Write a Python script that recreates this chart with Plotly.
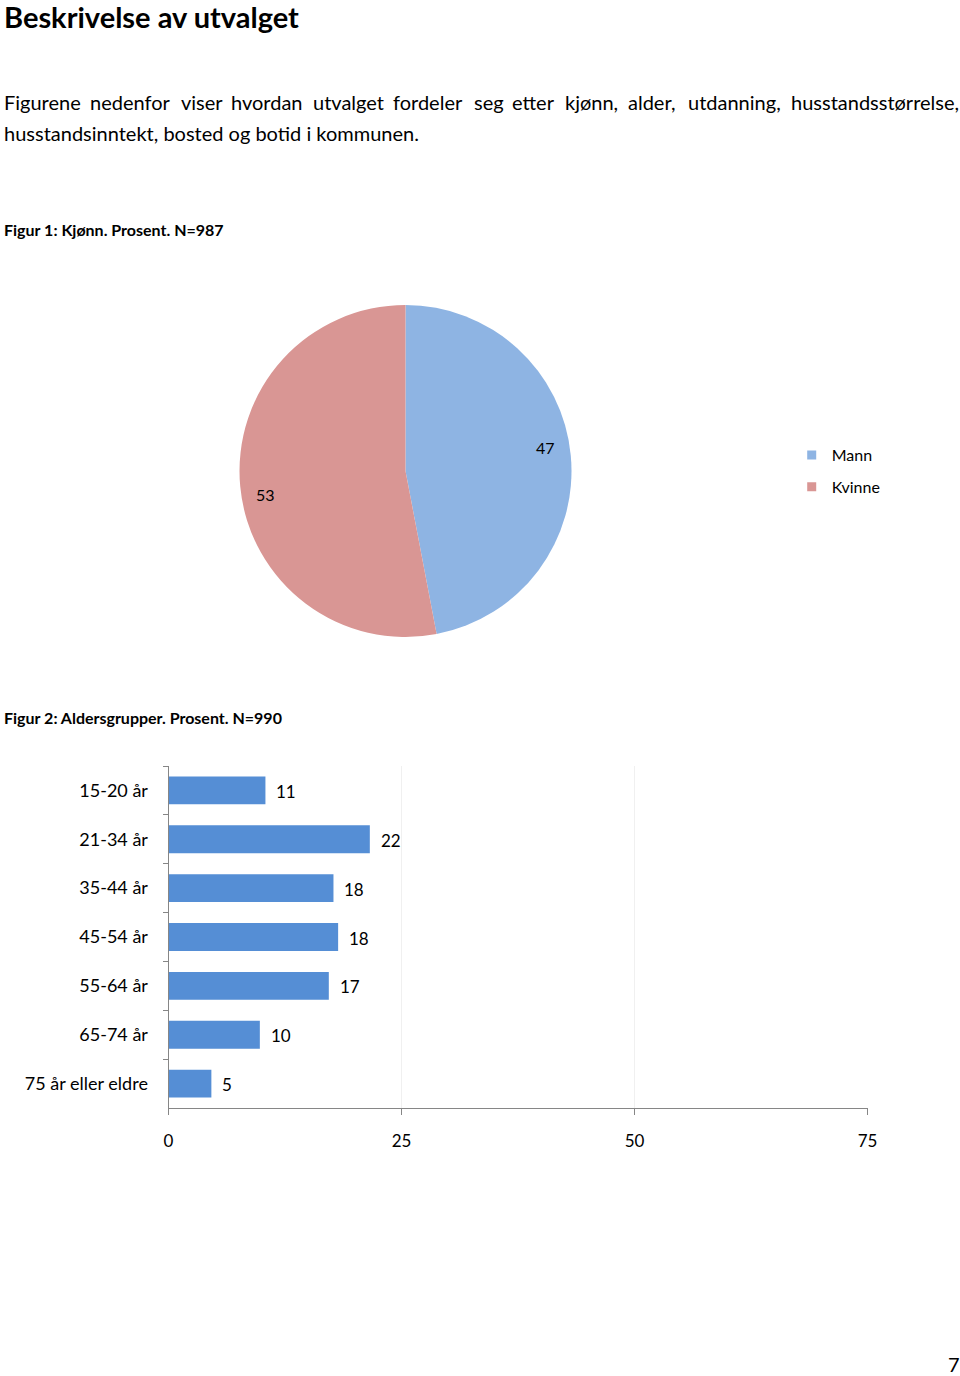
import plotly.graph_objects as go
import math

H = 1376
W = 975          # figure width
X_SCALE = 0.9846  # observed horizontal mapping of the renderer (figure px -> picture px)
X_OFF = 4.5
FONT = "Lato"

# ---- data ----
gender_labels = ["Mann", "Kvinne"]
gender_values = [47, 53]
gender_colors = ["#8EB4E3", "#D99694"]

age_groups = ["15-20 år", "21-34 år", "35-44 år", "45-54 år", "55-64 år", "65-74 år", "75 år eller eldre"]
age_values = [10.4, 21.6, 17.7, 18.2, 17.2, 9.8, 4.6]
age_labels = ["11", "22", "18", "18", "17", "10", "5"]
x_ticks = [0, 25, 50, 75]

title_text = "Beskrivelse av utvalget"
para_line1 = ["Figurene", "nedenfor", "viser", "hvordan", "utvalget", "fordeler", "seg", "etter",
              "kjønn,", "alder,", "utdanning,", "husstandsstørrelse,"]
para_line2 = "husstandsinntekt, bosted og botid i kommunen."
fig1_caption = "Figur 1: Kjønn. Prosent. N=987"
fig2_caption = "Figur 2: Aldersgrupper. Prosent. N=990"
page_no = "7"


def fxp(r):
    """picture x -> figure px"""
    return (r - X_OFF) / X_SCALE


def px(r):
    return fxp(r) / W


def py(y):
    return 1 - y / H


LEFT = -3 / W  # left-aligned text anchor

fig = go.Figure()

# ---- pie ----
pie_cx, pie_cy, pie_R = 405, 471, 166
pie_half = pie_R / X_SCALE
pie_vhalf = pie_R
fig.add_trace(go.Pie(
    labels=gender_labels, values=gender_values, sort=False, direction="clockwise", rotation=0,
    marker=dict(colors=gender_colors, line=dict(width=0)),
    textinfo="none", hoverinfo="label+value", showlegend=False,
    domain=dict(x=[(fxp(pie_cx) - pie_half) / W, (fxp(pie_cx) + pie_half) / W],
                y=[py(pie_cy + pie_vhalf), py(pie_cy - pie_vhalf)]),
))

# pie labels placed from the data (angle of each slice's middle)
tot = sum(gender_values)
cum = 0
annotations = []
for lab, v in zip(gender_labels, gender_values):
    mid = (cum + v / 2) / tot * 2 * math.pi - math.radians(4)
    cum += v
    lx = pie_cx + 0.855 * pie_R * math.sin(mid)
    ly = pie_cy - 0.855 * pie_R * math.cos(mid)
    annotations.append(dict(x=px(lx), y=py(ly), xref="paper", yref="paper", text=str(v),
                            xanchor="center", yanchor="middle",
                            showarrow=False, font=dict(family=FONT, size=16, color="#000000")))

# legend entries for pie
for lab, col in zip(gender_labels, gender_colors):
    fig.add_trace(go.Scatter(x=[None], y=[None], mode="markers", name=lab,
                             marker=dict(symbol="square", size=9, color=col),
                             legendgroup=lab, showlegend=True, xaxis="x", yaxis="y"))

# ---- bar ----
fig.add_trace(go.Bar(
    x=age_values, y=age_groups, orientation="h", marker=dict(color="#558ED5", line=dict(width=0)),
    showlegend=False, hoverinfo="x+y",
))
for g, v, t in zip(age_groups, age_values, age_labels):
    annotations.append(dict(x=v, y=g, xref="x", yref="y", text=t, showarrow=False,
                            xanchor="left", xshift=9, yshift=-1,
                            font=dict(family=FONT, size=17, color="#000000")))

# ---- text ----
annotations.append(dict(x=LEFT, y=py(16), xref="paper", yref="paper", text="<b>" + title_text + "</b>",
                        xanchor="left", yanchor="middle", showarrow=False,
                        font=dict(family=FONT, size=29, color="#000000")))
word_x = [0, 87, 178, 228, 310, 390, 471, 509, 562, 625, 685]
for wx, word in zip(word_x, para_line1[:-1]):
    annotations.append(dict(x=px(wx) if wx > 0 else LEFT, y=py(102), xref="paper", yref="paper",
                            text=word, xanchor="left", yanchor="middle", showarrow=False,
                            font=dict(family=FONT, size=20, color="#000000")))
annotations.append(dict(x=px(960), y=py(102), xref="paper", yref="paper", text=para_line1[-1],
                        xanchor="right", yanchor="middle", showarrow=False,
                        font=dict(family=FONT, size=20, color="#000000")))
annotations.append(dict(x=LEFT, y=py(133), xref="paper", yref="paper", text=para_line2,
                        xanchor="left", yanchor="middle", showarrow=False,
                        font=dict(family=FONT, size=20, color="#000000")))
annotations.append(dict(x=LEFT, y=py(230), xref="paper", yref="paper", text="<b>" + fig1_caption + "</b>",
                        xanchor="left", yanchor="middle", showarrow=False,
                        font=dict(family=FONT, size=16, color="#000000")))
annotations.append(dict(x=LEFT, y=py(717), xref="paper", yref="paper", text="<b>" + fig2_caption + "</b>",
                        xanchor="left", yanchor="middle", showarrow=False,
                        font=dict(family=FONT, size=16, color="#000000")))
annotations.append(dict(x=px(961), y=py(1364), xref="paper", yref="paper", text=page_no,
                        xanchor="right", yanchor="middle", showarrow=False,
                        font=dict(family=FONT, size=20, color="#000000")))

axis_col = "#868686"
fig.update_layout(
    width=W, height=H, margin=dict(l=0, r=0, t=0, b=0, pad=0), autosize=False,
    paper_bgcolor="#FFFFFF", plot_bgcolor="#FFFFFF",
    font=dict(family=FONT, size=17, color="#000000"),
    bargap=0.43,
    annotations=annotations,
    xaxis=dict(domain=[px(168), px(867)], range=[0, 75], tickvals=x_ticks, type="linear",
               showgrid=True, gridcolor="#F0F0F0", gridwidth=1, zeroline=False,
               showline=True, linecolor=axis_col, linewidth=1,
               ticks="outside", ticklen=6, tickcolor=axis_col, ticklabelstandoff=12,
               tickfont=dict(family=FONT, size=17), fixedrange=True),
    yaxis=dict(domain=[py(1108), py(766)], type="category", categoryorder="array",
               categoryarray=age_groups,
               autorange="reversed", showgrid=False, zeroline=False,
               showline=True, linecolor=axis_col, linewidth=1,
               ticks="outside", ticklen=5, tickcolor=axis_col, tickson="boundaries",
               ticklabelstandoff=16, tickfont=dict(family=FONT, size=18), fixedrange=True),
    legend=dict(x=799 / W, y=py(471), xanchor="left", yanchor="middle", tracegroupgap=8,
                itemwidth=30, font=dict(family=FONT, size=16, color="#000000"),
                bgcolor="rgba(0,0,0,0)"),
)

fig.write_html(
    "out.html",
    config={"responsive": False},
    post_script=(
        "document.documentElement.style.margin='0';"
        "document.documentElement.style.overflow='hidden';"
        "document.body.style.margin='0';document.body.style.padding='0';"
        "document.body.style.overflow='hidden';"
    ),
)
